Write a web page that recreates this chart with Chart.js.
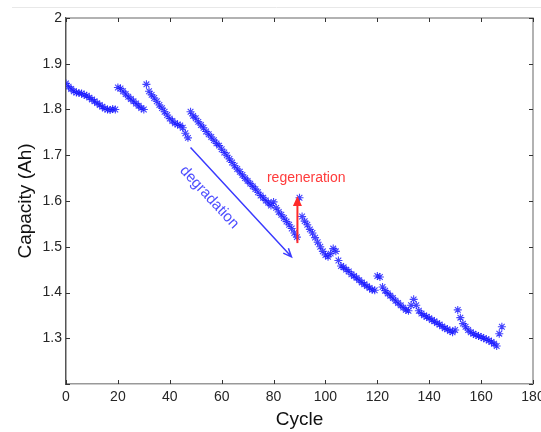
<!DOCTYPE html>
<html lang="en">
<head>
  <meta charset="UTF-8">
  <title>Capacity vs Cycle</title>
  <script src="https://cdn.jsdelivr.net/npm/chart.js"></script>
  <style>
    html, body { margin: 0; padding: 0; background: #fff; }
    #grafico { display: block; }
  </style>
</head>
<body>
  <canvas id="grafico" width="541" height="432"></canvas>

<script>
  // capacity (Ah) per cycle
  const capacity = [
    1.857, 1.850, 1.845, 1.840, 1.837, 1.836, 1.835, 1.832, 1.830, 1.826,
    1.822, 1.818, 1.814, 1.810, 1.806, 1.802, 1.800, 1.799, 1.801, 1.800,
    1.848, 1.846, 1.840, 1.834, 1.828, 1.823, 1.818, 1.813, 1.808, 1.803,
    1.800, 1.855, 1.840, 1.832, 1.825, 1.818, 1.810, 1.803, 1.795, 1.788,
    1.780, 1.775, 1.770, 1.767, 1.765, 1.760, 1.748, 1.738, 1.795, 1.786,
    1.781, 1.773, 1.766, 1.760, 1.752, 1.746, 1.740, 1.733, 1.726, 1.721,
    1.713, 1.706, 1.700, 1.692, 1.684, 1.677, 1.670, 1.664, 1.657, 1.650,
    1.644, 1.638, 1.632, 1.626, 1.619, 1.612, 1.607, 1.601, 1.596, 1.590,
    1.598, 1.585, 1.576, 1.570, 1.563, 1.555, 1.548, 1.540, 1.530, 1.521,
    1.607, 1.566, 1.556, 1.548, 1.538, 1.530, 1.520, 1.510, 1.500, 1.490,
    1.482, 1.478, 1.485, 1.496, 1.490, 1.470, 1.458, 1.455, 1.450, 1.446,
    1.440, 1.436, 1.432, 1.427, 1.422, 1.418, 1.414, 1.410, 1.406, 1.405,
    1.436, 1.434, 1.412, 1.404, 1.398, 1.393, 1.388, 1.382, 1.377, 1.372,
    1.367, 1.362, 1.360, 1.372, 1.385, 1.372, 1.360, 1.354, 1.350, 1.347,
    1.344, 1.340, 1.337, 1.333, 1.330, 1.326, 1.322, 1.320, 1.316, 1.313,
    1.318, 1.362, 1.345, 1.332, 1.325, 1.318, 1.313, 1.310, 1.307, 1.305,
    1.303, 1.300, 1.298, 1.295, 1.292, 1.288, 1.283, 1.310, 1.325
  ];
  const cycles = capacity.map((_, i) => i);

  const xTicks = [0, 20, 40, 60, 80, 100, 120, 140, 160, 180];
  const yTicks = [1.2, 1.3, 1.4, 1.5, 1.6, 1.7, 1.8, 1.9, 2.0];

  // annotations (data coordinates)
  const degradArrow = [[48, 1.717], [86.9, 1.478]];
  const degradLabel = [55.2, 1.608];
  const regenArrow = [[89.2, 1.508], [89.2, 1.611]];
  const regenLabel = [92.6, 1.651];

  const fonte = 'Arial, "Liberation Sans", sans-serif';

  // moldura, ticks para dentro e anotacoes
  const extras = {
    id: 'extras',
    beforeDraw(chart) {
      const ctx = chart.ctx;
      ctx.save();
      ctx.strokeStyle = '#e8e8e8';
      ctx.lineWidth = 1;
      ctx.beginPath();
      ctx.moveTo(12, 7.5);
      ctx.lineTo(541, 7.5);
      ctx.stroke();
      ctx.restore();
    },
    afterDraw(chart) {
      const ctx = chart.ctx;
      const a = chart.chartArea;
      const sx = chart.scales.x, sy = chart.scales.y;
      ctx.save();

      // top and right borders
      ctx.strokeStyle = '#999';
      ctx.lineWidth = 1.5;
      ctx.beginPath();
      ctx.moveTo(a.left, a.top);
      ctx.lineTo(a.right, a.top);
      ctx.lineTo(a.right, a.bottom);
      ctx.stroke();

      // inward ticks
      ctx.strokeStyle = '#333';
      ctx.lineWidth = 1;
      ctx.beginPath();
      xTicks.forEach(v => {
        const px = Math.round(sx.getPixelForValue(v)) + 0.5;
        ctx.moveTo(px, a.bottom); ctx.lineTo(px, a.bottom - 4);
        ctx.moveTo(px, a.top); ctx.lineTo(px, a.top + 4);
      });
      yTicks.forEach(v => {
        const py = Math.round(sy.getPixelForValue(v)) + 0.5;
        ctx.moveTo(a.left, py); ctx.lineTo(a.left + 4, py);
        ctx.moveTo(a.right, py); ctx.lineTo(a.right - 4, py);
      });
      ctx.stroke();

      // degradation arrow
      const d0x = sx.getPixelForValue(degradArrow[0][0]), d0y = sy.getPixelForValue(degradArrow[0][1]);
      const d1x = sx.getPixelForValue(degradArrow[1][0]), d1y = sy.getPixelForValue(degradArrow[1][1]);
      const ang = Math.atan2(d1y - d0y, d1x - d0x);
      ctx.strokeStyle = '#3b3bff';
      ctx.lineWidth = 1.5;
      ctx.beginPath();
      ctx.moveTo(d0x, d0y);
      ctx.lineTo(d1x, d1y);
      ctx.moveTo(d1x - 9 * Math.cos(ang - 0.4), d1y - 9 * Math.sin(ang - 0.4));
      ctx.lineTo(d1x, d1y);
      ctx.lineTo(d1x - 9 * Math.cos(ang + 0.4), d1y - 9 * Math.sin(ang + 0.4));
      ctx.stroke();

      ctx.save();
      ctx.translate(sx.getPixelForValue(degradLabel[0]), sy.getPixelForValue(degradLabel[1]));
      ctx.rotate(ang);
      ctx.fillStyle = '#4d4dff';
      ctx.font = '15px ' + fonte;
      ctx.textAlign = 'center';
      ctx.textBaseline = 'middle';
      ctx.fillText('degradation', 0, 0);
      ctx.restore();

      // regeneration arrow
      const r0x = sx.getPixelForValue(regenArrow[0][0]), r0y = sy.getPixelForValue(regenArrow[0][1]);
      const r1y = sy.getPixelForValue(regenArrow[1][1]);
      ctx.strokeStyle = '#ff2a2a';
      ctx.fillStyle = '#ff2a2a';
      ctx.lineWidth = 2;
      ctx.beginPath();
      ctx.moveTo(r0x, r0y);
      ctx.lineTo(r0x, r1y + 8);
      ctx.stroke();
      ctx.beginPath();
      ctx.moveTo(r0x, r1y);
      ctx.lineTo(r0x - 4.5, r1y + 10);
      ctx.lineTo(r0x + 4.5, r1y + 10);
      ctx.closePath();
      ctx.fill();

      ctx.fillStyle = '#ff3b3b';
      ctx.font = '14px ' + fonte;
      ctx.textAlign = 'center';
      ctx.textBaseline = 'middle';
      ctx.fillText('regeneration', sx.getPixelForValue(regenLabel[0]), sy.getPixelForValue(regenLabel[1]));

      ctx.restore();
    }
  };

  const dados = {
    datasets: [{
      label: 'Capacity',
      data: cycles.map((c, i) => ({ x: c, y: capacity[i] })),
      showLine: false,
      pointStyle: 'star',
      pointRadius: 4,
      pointBorderWidth: 1.1,
      pointBorderColor: 'rgba(20, 20, 255, 0.8)',
      pointBackgroundColor: 'rgba(20, 20, 255, 0.8)'
    }]
  };

  const config = {
    type: 'scatter',
    data: dados,
    options: {
      responsive: false,
      animation: false,
      devicePixelRatio: 1,
      layout: { padding: { top: 18, right: 8, left: 0, bottom: 0 } },
      plugins: {
        legend: { display: false },
        tooltip: { enabled: false }
      },
      scales: {
        x: {
          type: 'linear',
          min: 0,
          max: 180,
          afterBuildTicks: s => { s.ticks = xTicks.map(v => ({ value: v })); },
          afterFit: s => { s.height = 48; s.paddingRight = 0; s.paddingLeft = 0; },
          grid: { display: false, drawTicks: false },
          border: { display: true, color: '#999', width: 1.5 },
          ticks: { color: '#262626', font: { size: 14, family: fonte }, padding: 5, maxRotation: 0 },
          title: {
            display: true, text: 'Cycle', color: '#111',
            font: { size: 19, family: fonte }, padding: { top: 0, bottom: 1 }
          }
        },
        y: {
          min: 1.2,
          max: 2.0,
          afterBuildTicks: s => { s.ticks = yTicks.map(v => ({ value: v })); },
          afterFit: s => { s.width = 66; s.paddingTop = 0; s.paddingBottom = 0; },
          grid: { display: false, drawTicks: false },
          border: { display: true, color: '#555', width: 1.5 },
          ticks: {
            color: '#262626', font: { size: 14, family: fonte }, padding: 4,
            callback: v => Math.abs(v - 1.2) < 1e-6 ? '' : String(+v.toFixed(1))
          },
          title: {
            display: true, text: 'Capacity (Ah)', color: '#111',
            font: { size: 19, family: fonte }, padding: { top: 14, bottom: 0 }
          }
        }
      }
    },
    plugins: [extras]
  };

  new Chart(document.getElementById('grafico'), config);
</script>
</body>
</html>
